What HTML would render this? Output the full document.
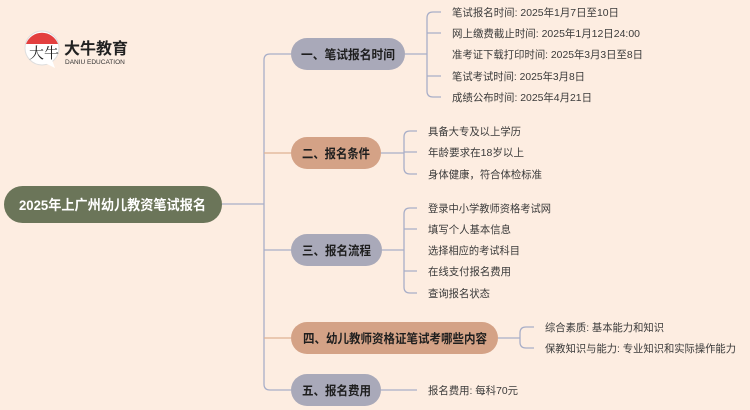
<!DOCTYPE html>
<html><head><meta charset="utf-8"><style>
html,body{margin:0;padding:0;background:#fdede1;}
svg{display:block;font-family:"Liberation Sans","Noto Sans CJK SC",sans-serif;}
.l{font-size:10.5px;fill:#3a3a3a;}
.b{font-size:12.5px;font-weight:bold;fill:#1e1e1e;}
</style></head><body>
<svg width="750" height="410" viewBox="0 0 750 410" xmlns="http://www.w3.org/2000/svg">
<rect width="750" height="410" fill="#fdede1"/>
<!-- logo -->
<circle cx="42" cy="48" r="17" fill="#fff" stroke="#ddd"/>
<path d="M26,44 A17,17 0 0 1 58,44 Z" fill="#e02a2a" opacity="0.9"/>
<path d="M45,63 L55,68 L52,60 Z" fill="#fff"/>
<text x="29" y="58" font-size="15" fill="#222" font-family="Noto Serif CJK SC,serif">大牛</text>
<text x="64" y="54" font-size="16" font-weight="bold" fill="#222">大牛教育</text>
<text x="65" y="64" font-size="6.5" fill="#333">DANIU EDUCATION</text>
<!-- connectors -->
<g fill="none" stroke="#a8aec8" stroke-width="1.3">
<path d="M222,204 H264"/>
<path d="M270,54 H291 M264,204 V60 Q264,54 270,54"/>
<path d="M264,204 V384 Q264,390 270,390 H291"/>
<path d="M264,250 H291"/>
<path d="M405,54 H427 M441,12 H433 Q427,12 427,18 V91 Q427,97 433,97 H441 M427,33 H441 M427,76 H441"/>
<path d="M381,153 H404 M417,131 H410 Q404,131 404,137 V168 Q404,174 410,174 H417 M404,152 H417"/>
<path d="M382,250 H404 M417,208 H410 Q404,208 404,214 V287 Q404,293 410,293 H417 M404,229 H417 M404,271 H417"/>
<path d="M498,338 H520 M534,327 H526 Q520,327 520,333 V342 Q520,348 526,348 H534"/>
<path d="M381,390 H417"/>
</g>
<g fill="none" stroke="#e0b394" stroke-width="1.3">
<path d="M264,153 H291"/>
<path d="M264,338 H291"/>
</g>
<!-- root -->
<rect x="4" y="186" width="218" height="37" rx="18.5" fill="#6b7559"/>
<text x="19" y="210" font-size="14" font-weight="bold" fill="#fff" textLength="187" lengthAdjust="spacingAndGlyphs">2025年上广州幼儿教资笔试报名</text>
<!-- branches -->
<rect x="291" y="38" width="114" height="32" rx="16" fill="#a9a9b9"/>
<text x="301" y="59" class="b" textLength="94" lengthAdjust="spacingAndGlyphs">一、笔试报名时间</text>
<rect x="291" y="137" width="90" height="32" rx="16" fill="#d4a286"/>
<text x="302" y="158" class="b" textLength="68" lengthAdjust="spacingAndGlyphs">二、报名条件</text>
<rect x="291" y="234" width="91" height="32" rx="16" fill="#a9a9b9"/>
<text x="302" y="255" class="b" textLength="69" lengthAdjust="spacingAndGlyphs">三、报名流程</text>
<rect x="291" y="322" width="207" height="32" rx="16" fill="#d4a286"/>
<text x="303" y="343" class="b" textLength="184" lengthAdjust="spacingAndGlyphs">四、幼儿教师资格证笔试考哪些内容</text>
<rect x="291" y="374" width="90" height="32" rx="16" fill="#a9a9b9"/>
<text x="302" y="395" class="b" textLength="69" lengthAdjust="spacingAndGlyphs">五、报名费用</text>
<!-- leaves -->
<g lengthAdjust="spacingAndGlyphs">
<text x="452" y="16" class="l" textLength="167" lengthAdjust="spacingAndGlyphs">笔试报名时间: 2025年1月7日至10日</text>
<text x="452" y="37" class="l" textLength="188" lengthAdjust="spacingAndGlyphs">网上缴费截止时间: 2025年1月12日24:00</text>
<text x="452" y="58" class="l" textLength="191" lengthAdjust="spacingAndGlyphs">准考证下载打印时间: 2025年3月3日至8日</text>
<text x="452" y="80" class="l" textLength="133" lengthAdjust="spacingAndGlyphs">笔试考试时间: 2025年3月8日</text>
<text x="452" y="101" class="l" textLength="140" lengthAdjust="spacingAndGlyphs">成绩公布时间: 2025年4月21日</text>
<text x="428" y="135" class="l" textLength="93" lengthAdjust="spacingAndGlyphs">具备大专及以上学历</text>
<text x="428" y="156" class="l" textLength="96" lengthAdjust="spacingAndGlyphs">年龄要求在18岁以上</text>
<text x="428" y="178" class="l" textLength="114" lengthAdjust="spacingAndGlyphs">身体健康，符合体检标准</text>
<text x="428" y="212" class="l" textLength="123" lengthAdjust="spacingAndGlyphs">登录中小学教师资格考试网</text>
<text x="428" y="233" class="l" textLength="83" lengthAdjust="spacingAndGlyphs">填写个人基本信息</text>
<text x="428" y="254" class="l" textLength="92" lengthAdjust="spacingAndGlyphs">选择相应的考试科目</text>
<text x="428" y="275" class="l" textLength="83" lengthAdjust="spacingAndGlyphs">在线支付报名费用</text>
<text x="428" y="297" class="l" textLength="62" lengthAdjust="spacingAndGlyphs">查询报名状态</text>
<text x="545" y="331" class="l" textLength="119" lengthAdjust="spacingAndGlyphs">综合素质: 基本能力和知识</text>
<text x="545" y="352" class="l" textLength="191" lengthAdjust="spacingAndGlyphs">保教知识与能力: 专业知识和实际操作能力</text>
<text x="428" y="394" class="l" textLength="90" lengthAdjust="spacingAndGlyphs">报名费用: 每科70元</text>
</g>
</svg>
</body></html>
